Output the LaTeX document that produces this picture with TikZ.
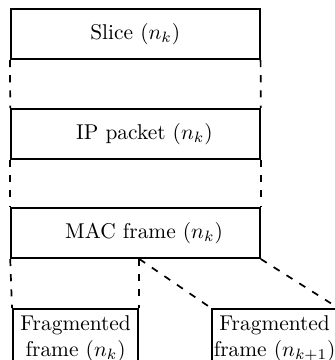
\documentclass[tikz,border=0pt]{standalone}
\tikzset{
  box/.style={draw, line width=0.9pt, inner sep=0pt, minimum width=116.2pt, minimum height=23.4pt},
  fragbox/.style={draw, line width=0.9pt, inner xsep=3pt, inner ysep=3.33pt, text width=52.6pt, align=center, anchor=north west},
  dline/.style={line width=0.8pt, dash pattern=on 3.3pt off 3.8pt}
}
\begin{document}
\begin{tikzpicture}[x=0.4673pt, y=-0.4673pt]
\useasboundingbox (0,0) rectangle (335,360);
\clip (0,0) rectangle (335,360);
\node[box] (slice) at (135.3,34) {Slice ($n_k$)\hspace{7.4pt}};
\node[box] (ip) at (135.5,134) {\hspace{8.4pt}IP packet ($n_k$)};
\node[box] (mac) at (135.5,233) {\hspace{8pt}MAC frame ($n_k$)};
\node[fragbox] (fl) at (12,308) {Fragmented\\ frame ($n_k$)};
\node[fragbox] (fr) at (211,308) {Fragmented\\ \makebox[\linewidth]{frame ($n_{k+1}$)}};
\coordinate (split) at (fl.north east |- mac.south);
\draw[dline] (slice.south west) -- (ip.north west);
\draw[dline] (slice.south east) -- (ip.north east);
\draw[dline] (ip.south west) -- (mac.north west);
\draw[dline] (ip.south east) -- (mac.north east);
\draw[dline] (mac.south west) -- (fl.north west);
\draw[dline] (split) -- (fl.north east);
\draw[dline] (split) -- (fr.north west);
\draw[dline] (mac.south east) -- (fr.north east);
\end{tikzpicture}
\end{document}
